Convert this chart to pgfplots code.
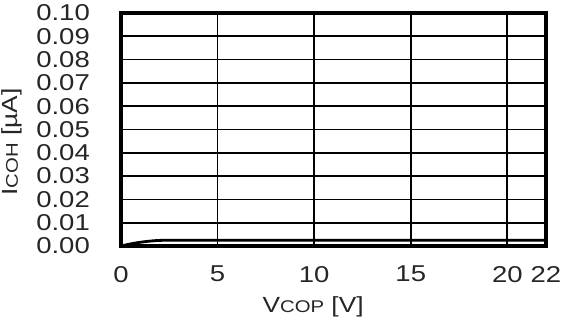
\documentclass[border=0pt]{standalone}
\usepackage{fontspec}
\setmainfont{Liberation Sans}[FakeStretch=1.2]
\usepackage{pgfplots}
\pgfplotsset{compat=1.18}
\begin{document}
\begin{tikzpicture}
\begin{axis}[
  scale only axis,
  width=425bp, height=233bp,
  xmin=0, xmax=22, ymin=0, ymax=0.10,
  xtick={0,5,10,15,20,22},
  ytick={0,0.01,0.02,0.03,0.04,0.05,0.06,0.07,0.08,0.09,0.10},
  grid=major,
  major grid style={black, line width=1.8bp},
  major tick length=0pt,
  axis line style={black, line width=3.2bp},
  tick label style={font=\fontsize{23}{23}\selectfont, text=black!85},
  /pgf/number format/assume math mode=true,
  yticklabel style={/pgf/number format/fixed, /pgf/number format/fixed zerofill, /pgf/number format/precision=2, inner sep=0pt, xshift=-31bp},
  xticklabel style={inner sep=0pt, yshift=-20bp},
  scaled y ticks=false,
  xlabel={V{\fontsize{17}{17}\selectfont COP} [V]},
  ylabel={I{\fontsize{17}{17}\selectfont COH} [\textmu A]},
  label style={font=\fontsize{22}{22}\selectfont, text=black!85},
  xlabel style={at={(axis description cs:0.452,0)}, anchor=center, yshift=-61bp},
  ylabel style={at={(axis description cs:-0.256,0.446)}, anchor=center},
  clip=false,
]
\addplot[black, line width=2.8bp, smooth] coordinates {
(0,0) (0.5,0.0009) (1,0.0016) (1.5,0.0021) (2,0.0024) (3,0.0025) (8,0.0025) (22,0.0025)
};
\end{axis}
\pgfresetboundingbox
\path (current axis.south west) ++(-121bp,-80bp) rectangle ++(562bp,326bp);
\end{tikzpicture}
\end{document}
